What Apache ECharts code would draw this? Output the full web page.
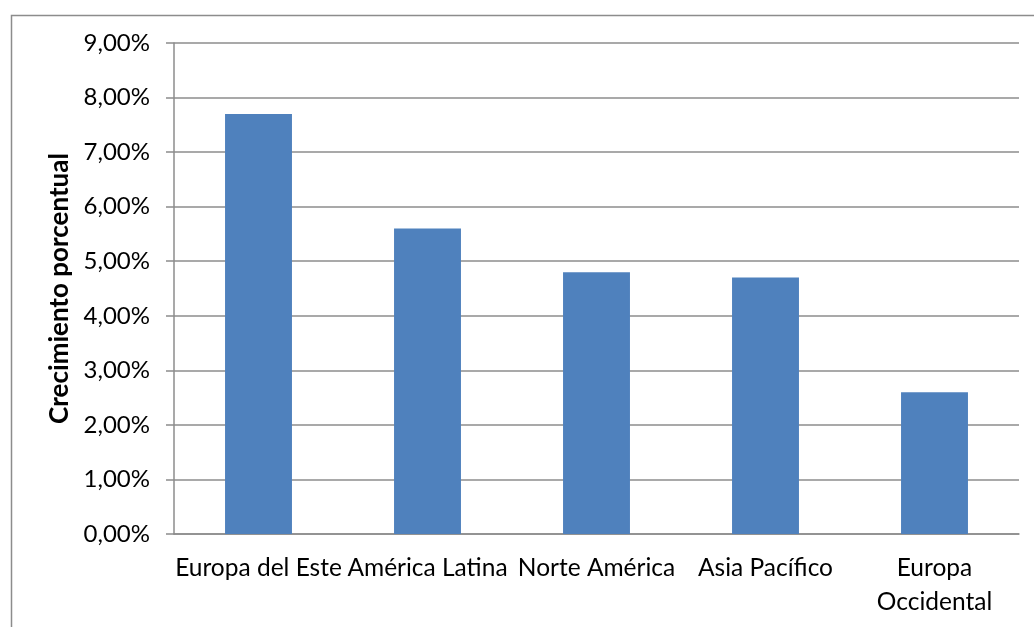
<!DOCTYPE html>
<html>
<head>
<meta charset="utf-8">
<script src="https://cdn.jsdelivr.net/npm/echarts@6/dist/echarts.min.js"></script>
<style>
  html, body { margin: 0; padding: 0; background: #ffffff; }
  #chart { width: 1034px; height: 627px; }
</style>
</head>
<body>
<div id="chart"></div>
<script>
// Regional growth, in percent
const regions = ['Europa del Este', 'América Latina', 'Norte América', 'Asia Pacífico', 'Europa Occidental'];
const growth = [7.7, 5.6, 4.8, 4.7, 2.6];
const axisTitle = 'Crecimiento porcentual';

const FONT = 'Lato, "Open Sans", sans-serif';
const chart = echarts.init(document.getElementById('chart'), null, { renderer: 'canvas' });

chart.setOption({
  animation: false,
  backgroundColor: '#ffffff',
  graphic: [{
    type: 'rect',
    left: 9, top: 13,
    shape: { x: 0, y: 0, width: 1060, height: 660 },
    style: { fill: 'none', stroke: '#8c8c8c', lineWidth: 1.5 },
    silent: true
  }],
  grid: { left: 174, right: 15, top: 43, bottom: 93, containLabel: false },
  xAxis: {
    type: 'category',
    data: regions,
    axisLine: { lineStyle: { color: '#8c8c8c', width: 1.5 } },
    axisTick: { show: false },
    axisLabel: {
      interval: 0,
      margin: 17,
      color: '#000000',
      fontFamily: FONT,
      fontSize: 24.5,
      lineHeight: 34,
      formatter: v => v === 'Europa Occidental' ? 'Europa\nOccidental' : v
    }
  },
  yAxis: {
    type: 'value',
    min: 0, max: 9, interval: 1,
    name: axisTitle,
    nameLocation: 'middle',
    nameGap: 101,
    nameRotate: 90,
    nameTextStyle: { color: '#000000', fontFamily: FONT, fontWeight: 'bold', fontSize: 26 },
    axisLine: { show: true, lineStyle: { color: '#8c8c8c', width: 1.5 } },
    axisTick: { show: true, length: 8, inside: false, lineStyle: { color: '#8c8c8c', width: 1.5 } },
    splitLine: { show: true, lineStyle: { color: '#8c8c8c', width: 1.5 } },
    axisLabel: {
      margin: 24,
      color: '#000000',
      fontFamily: FONT,
      fontSize: 24,
      formatter: v => v.toFixed(2).replace('.', ',') + '%'
    }
  },
  series: [{
    type: 'bar',
    data: growth,
    barWidth: '39.6%',
    itemStyle: { color: '#4f81bd' }
  }]
});
</script>
</body>
</html>
